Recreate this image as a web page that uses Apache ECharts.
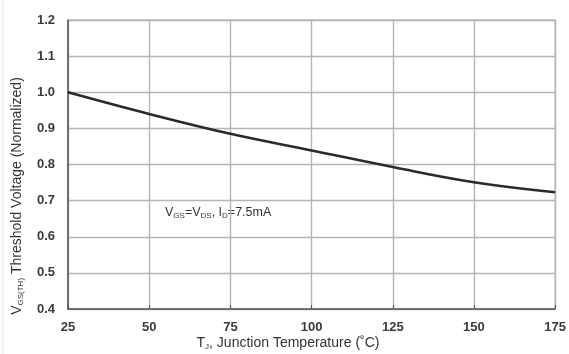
<!DOCTYPE html>
<html><head><meta charset="utf-8">
<script src="https://cdn.jsdelivr.net/npm/echarts@6/dist/echarts.min.js"></script>
<style>html,body{margin:0;padding:0;background:#fff}#c{width:569px;height:354px}</style>
</head><body><div id="c"></div>
<script>
const temps = [25, 50, 75, 100, 125, 150, 175];
const vthNorm = [1.0, 0.94, 0.885, 0.839, 0.793, 0.751, 0.723];
const xTicks = [25, 50, 75, 100, 125, 150, 175];
const yTicks = [0.4, 0.5, 0.6, 0.7, 0.8, 0.9, 1.0, 1.1, 1.2];

const chart = echarts.init(document.getElementById('c'));
const ff = '"Liberation Sans", Arial, sans-serif';
chart.setOption({
  animation: false,
  textStyle: { fontFamily: ff },
  grid: { left: 68, right: 13, top: 20, bottom: 45, show: true, borderColor: '#b0b0b0', borderWidth: 1.2 },
  xAxis: {
    type: 'value', min: 25, max: 175, interval: 25,
    axisLine: { show: true, onZero: false, lineStyle: { color: '#555', width: 1.5 } },
    axisTick: { show: true, inside: true, length: 4, lineStyle: { color: '#555' } },
    axisLabel: { color: '#3a3a3a', fontSize: 13, fontWeight: 'bold', margin: 12, fontFamily: ff,
      formatter: v => xTicks.includes(v) ? String(v) : '' },
    splitLine: { show: true, lineStyle: { color: '#b4b4b4', width: 1.4 } }
  },
  yAxis: {
    type: 'value', min: 0.4, max: 1.2, interval: 0.1,
    axisLine: { show: true, lineStyle: { color: '#555', width: 1.5 } },
    axisTick: { show: false },
    axisLabel: { color: '#3a3a3a', fontSize: 13, fontWeight: 'bold', margin: 13, fontFamily: ff,
      formatter: v => { const t = yTicks.find(y => Math.abs(y - v) < 1e-6); return t !== undefined ? t.toFixed(1) : ''; } },
    splitLine: { show: true, lineStyle: { color: '#b4b4b4', width: 1.4 } }
  },
  series: [{
    type: 'line', data: temps.map((t, i) => [t, vthNorm[i]]),
    smooth: 0.4, symbol: 'none',
    lineStyle: { color: '#2a2a2a', width: 2.5 }
  }],
  graphic: [
    { type: 'line', shape: { x1: 3, y1: 0, x2: 3, y2: 354 }, style: { stroke: '#e2e2e2', lineWidth: 1 } },
    { type: 'text', x: 17, y: 196, rotation: Math.PI / 2,
      style: { text: '{b|V}{s|GS(TH)}{b| Threshold Voltage (Normalized)}', align: 'center', verticalAlign: 'middle',
        rich: { b: { fontSize: 14, fill: '#333', fontFamily: ff }, s: { fontSize: 8, fill: '#333', fontFamily: ff, padding: [7, 0, 0, 0] } } } },
    { type: 'text', x: 288, y: 343,
      style: { text: '{b|T}{s|J}{b|, Junction Temperature (˚C)}', align: 'center', verticalAlign: 'middle',
        rich: { b: { fontSize: 14, fill: '#333', fontFamily: ff }, s: { fontSize: 8, fill: '#333', fontFamily: ff, padding: [7, 0, 0, 0] } } } },
    { type: 'text', x: 165, y: 213,
      style: { text: '{b|V}{s|GS}{b|=V}{s|DS}{b|, I}{s|D}{b|=7.5mA}', align: 'left', verticalAlign: 'middle',
        rich: { b: { fontSize: 12.5, fill: '#333', fontFamily: ff }, s: { fontSize: 8, fill: '#333', fontFamily: ff, padding: [6, 0, 0, 0] } } } }
  ]
});
</script></body></html>
